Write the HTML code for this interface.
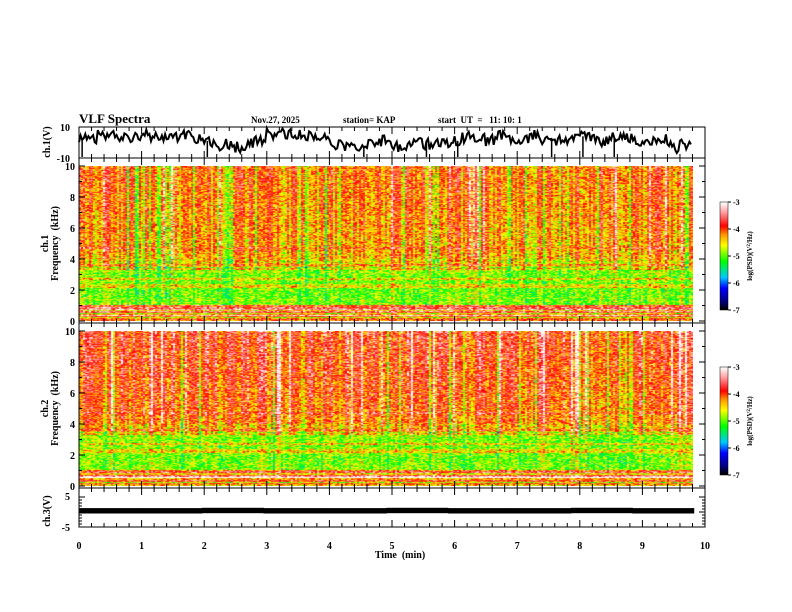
<!DOCTYPE html>
<html><head><meta charset="utf-8">
<style>
html,body{margin:0;padding:0;background:#fff;}
#wrap{position:relative;width:792px;height:612px;overflow:hidden;font-family:"Liberation Serif",serif;}
canvas{position:absolute;}
svg{position:absolute;left:0;top:0;}
svg text{font-family:"Liberation Serif",serif;font-weight:bold;fill:#000;white-space:pre;}
</style></head>
<body>
<div id="wrap">
<canvas id="sp1" width="614" height="155" style="left:79px;top:166px"></canvas>
<canvas id="sp2" width="614" height="155" style="left:79px;top:331px"></canvas>
<canvas id="cb1" width="8" height="108" style="left:720px;top:202px"></canvas>
<canvas id="cb2" width="8" height="108" style="left:720px;top:367px"></canvas>
<svg id="svg" width="792" height="612"></svg>
</div>
<script>
// ---- data ----
const timeTicks = [0,1,2,3,4,5,6,7,8,9,10];
const freqTicks = [0,2,4,6,8,10];
const cbTicks = [-3,-4,-5,-6,-7];
// mean log PSD per 0.5 kHz band (0..10 kHz), ch1 and ch2
const freqBands = [0,0.5,1,1.5,2,2.5,3,3.5,4,4.5,5,5.5,6,6.5,7,7.5,8,8.5,9,9.5];
const ch1Profile = [-4.3,-3.95,-4.95,-5.0,-5.0,-4.95,-4.9,-4.55,-4.35,-4.3,-4.3,-4.3,-4.25,-4.25,-4.2,-4.2,-4.2,-4.15,-4.15,-4.15];
const ch2Profile = [-4.3,-3.95,-4.95,-5.0,-4.95,-4.95,-4.9,-4.45,-4.2,-4.15,-4.1,-4.1,-4.05,-4.05,-4.0,-4.0,-3.95,-3.95,-3.9,-3.9];
// horizontal line features (kHz) and their offsets
const lineFreqs = [0.3,0.55,0.9,2.2,2.3,2.7,3.35,3.6,4.7];
const lineOffsets = [0.5,0.6,0.4,0.5,0.35,0.45,0.4,0.35,0.3];
// per-time-segment activity (ch1, ch2), 0..9.8 min in 0.2 min steps
const ch1Activity = [0.2,-0.1,0.3,0.1,-0.2,0.2,0.1,0.3,-0.1,0.2,0.1,-0.2,0.1,0.3,0.2,0.1,-0.1,0.2,0.0,-0.3,0.2,0.1,0.3,0.1,-0.1,0.2,0.3,0.0,0.1,-0.2,0.1,0.2,0.0,0.3,-0.1,0.2,0.1,0.2,0.3,0.1,-0.1,0.2,0.3,0.1,0.0,0.2,0.3,0.1,0.2,0.1];
const ch2Activity = [0.2,0.1,0.3,0.2,0.0,0.3,0.2,0.1,-0.1,0.2,0.3,0.0,0.1,0.3,0.2,0.1,0.0,-0.2,0.2,0.0,0.1,0.2,0.1,0.0,-0.1,0.2,0.3,0.1,0.0,-0.1,0.1,0.2,0.2,0.0,0.1,0.2,0.3,0.1,0.2,0.3,0.1,0.0,-0.1,0.2,0.3,0.2,0.1,0.3,0.2,0.1];
// ch1 waveform (V) every 0.1 min
const ch1Wave = [3,4,2,5,3,6,4,3,2,4,5,3,4,2,3,4,6,5,3,2,1,-1,-2,0,-1,-3,-2,0,2,1,6,5,7,6,5,6,4,5,3,2,0,-1,-2,0,-3,-2,-1,0,1,-1,-2,-3,-2,0,1,-1,-2,0,-1,-2,1,3,4,2,3,1,2,4,3,1,2,3,5,4,2,3,1,0,2,3,4,3,2,0,1,3,2,4,3,1,0,1,2,3,-2,-4,1,-3];
const ch3Level = [0.4,0.4,0.5,0.4,0.4,0.5,0.4,0.4,0.5,0.4];

// ---- geometry ----
const X0=79, X1=705, TMIN=0, TMAX=10;
const xs = t => X0 + (t-TMIN)/(TMAX-TMIN)*(X1-X0);
const svg = document.getElementById('svg');
const NS='http://www.w3.org/2000/svg';
function mk(tag, attrs, parent){const e=document.createElementNS(NS,tag);for(const k in attrs)e.setAttribute(k,attrs[k]);(parent||svg).appendChild(e);return e;}
function txt(x,y,s,size,anchor,rot){const e=mk('text',{x:x,y:y,'font-size':size,'text-anchor':anchor||'start'});if(rot)e.setAttribute('transform','rotate(-90 '+x+' '+y+')');e.textContent=s;return e;}

function hash(i,j,s){let h=(i*374761393+j*668265263+s*982451653)|0;h=(h^(h>>>13))*1274126177|0;h=h^(h>>>16);return ((h>>>0)%10000)/10000;}

const stops=[[0,0,0,0],[0.08,0,0,130],[0.2,0,0,255],[0.3,0,200,255],[0.45,0,255,0],[0.6,255,255,0],[0.7,255,150,0],[0.78,255,0,0],[0.9,255,150,150],[1,255,255,255]];
function cmap(v){let t=(v+7)/4;t=Math.max(0,Math.min(1,t));for(let k=1;k<stops.length;k++){if(t<=stops[k][0]){const a=stops[k-1],b=stops[k];const f=(t-a[0])/(b[0]-a[0]);return [a[1]+f*(b[1]-a[1]),a[2]+f*(b[2]-a[2]),a[3]+f*(b[3]-a[3])];}}return [255,255,255];}

function drawSpec(id,profile,activity,seed){
  const c=document.getElementById(id),ctx=c.getContext('2d');
  const W=c.width,H=c.height,img=ctx.createImageData(W,H);
  const dataW=Math.round(xs(9.82)-X0);
  for(let x=0;x<W;x++){
    const col=Math.floor(x/2);
    const t=x/(X1-X0)*10;
    const seg=Math.min(activity.length-1,Math.floor(t/0.2));
    const r=hash(col,0,seed);
    const colOff=activity[seg]*0.5+(r-0.5)*1.0+(r>0.93?0.4:0)-(r<0.1?0.3:0);
    for(let y=0;y<H;y++){
      const i=(y*W+x)*4;
      if(x>=dataW){img.data[i]=img.data[i+1]=img.data[i+2]=255;img.data[i+3]=255;continue;}
      const f=(H-1-y)/(H-1)*10;
      const b=Math.min(profile.length-1,Math.floor(f/0.5));
      let v=profile[b];
      v+=colOff*(f<1?0.2:(f<3.3?0.4:1));
      if(f<1){v+=(hash(y,1,seed)-0.5)*1.2;}
      for(let k=0;k<lineFreqs.length;k++){if(Math.abs(f-lineFreqs[k])<0.07)v+=lineOffsets[k];}
      v+=(hash(col,y,seed)-0.5)*1.0;
      const cl=cmap(v);
      img.data[i]=cl[0];img.data[i+1]=cl[1];img.data[i+2]=cl[2];img.data[i+3]=255;
    }
  }
  ctx.putImageData(img,0,0);
}
drawSpec('sp1',ch1Profile,ch1Activity,7);
drawSpec('sp2',ch2Profile,ch2Activity,13);

function drawCb(id){const c=document.getElementById(id),ctx=c.getContext('2d');for(let y=0;y<c.height;y++){const v=-3-4*y/(c.height-1);const cl=cmap(v);ctx.fillStyle='rgb('+cl.map(Math.round).join(',')+')';ctx.fillRect(0,y,c.width,1);}}
drawCb('cb1');drawCb('cb2');

// ---- panels ----
const panels=[
 {name:'ch1-wave-panel',y0:127,y1:158},
 {name:'ch1-spec-panel',y0:158,y1:323},
 {name:'ch2-spec-panel',y0:323,y1:488},
 {name:'ch3-wave-panel',y0:488,y1:527}
];
panels.forEach(p=>{
  const g=mk('g',{});
  
  
  mk('rect',{x:X0,y:p.y0,width:X1-X0,height:p.y1-p.y0,fill:'none',stroke:'#000','stroke-width':1},g);
  for(let k=0;k<=50;k++){
    const t=k*0.2,x=xs(t),L=(k%5===0)?7:4;
    mk('line',{x1:x,y1:p.y0,x2:x,y2:p.y0+L,stroke:'#000'},g);
    mk('line',{x1:x,y1:p.y1,x2:x,y2:p.y1-L,stroke:'#000'},g);
  }
});
function specAxis(top,bot,label1){
  const ys=f=>bot-(f/10)*(bot-top);
  for(let f=0;f<=10;f++){const y=ys(f),L=f%2===0?6:3;
    mk('line',{x1:X0,y1:y,x2:X0+L,y2:y,stroke:'#000'});
    mk('line',{x1:X1,y1:y,x2:X1-L,y2:y,stroke:'#000'});}
  freqTicks.forEach(f=>{const e=txt(X0-4,ys(f)+4,String(f),10,'end');});
  const a=txt(48,(top+bot)/2,label1,10,'middle',true);
  const b=txt(58,(top+bot)/2,'Frequency  (kHz)',10,'middle',true);
}
specAxis(166,321,'ch.1');
specAxis(331,486,'ch.2');

function cbAxis(top,bot){
  cbTicks.forEach(v=>{const y=top+(-3-v)/4*(bot-top);
    mk('line',{x1:728,y1:y,x2:731,y2:y,stroke:'#000'});
    const e=txt(733,y+3,String(v),8,'start');});
  mk('rect',{x:720,y:top,width:8,height:bot-top,fill:'none',stroke:'#000','stroke-width':0.5});
  const e=mk('text',{x:752,y:(top+bot)/2,'font-size':7,'text-anchor':'middle',transform:'rotate(-90 752 '+((top+bot)/2)+')'});
  e.innerHTML='log(PSD)(V<tspan baseline-shift="super" font-size="5">2</tspan>/Hz)';
  
}
cbAxis(202,310);cbAxis(367,475);

// ch1 wave
(function(){
  const top=127,bot=158,yv=v=>top+(10-v)/20*(bot-top);
  let d='';
  const n=ch1Wave.length;
  for(let k=0;k<n;k++){const t=k*0.1;
    for(let s=0;s<4;s++){const tt=t+s*0.025;if(tt>9.82)break;const v=ch1Wave[k]+(hash(k,s,3)-0.5)*7;d+=(d?'L':'M')+xs(tt).toFixed(1)+','+yv(Math.max(-10,Math.min(10,v))).toFixed(1);}
  }
  const p=mk('path',{d:d,fill:'none',stroke:'#000','stroke-width':2});
  
  for(let k=0;k<n;k+=5){const x=xs(k*0.1+0.05);if(hash(k,9,4)>0.4)mk('line',{x1:x,y1:yv(ch1Wave[k]),x2:x,y2:bot-1,stroke:'#000','stroke-width':1.5});}
  txt(70,131,'10',10,'end');txt(70,162,'-10',10,'end');
  const e=txt(50,142,'ch.1(V)',10,'middle',true);
})();
// ch3 wave
(function(){
  const top=497,bot=527,yv=v=>top+(5-v)/10*(bot-top);
  for(let k=0;k<ch3Level.length;k++){
    const x0=xs(k*0.982),x1=xs((k+1)*0.982);
    const r=mk('rect',{x:x0,y:yv(ch3Level[k]+0.9),width:x1-x0+0.5,height:yv(ch3Level[k]-0.9)-yv(ch3Level[k]+0.9),fill:'#000'});
    
  }
  for(let v=-5;v<=5;v++){const y=yv(v),L=v%5===0?6:3;mk('line',{x1:X0,y1:y,x2:X0+L,y2:y,stroke:'#000'});mk('line',{x1:X1,y1:y,x2:X1-L,y2:y,stroke:'#000'});}
  txt(70,500,'5',10,'end');txt(70,531,'-5',10,'end');
  const e=txt(50,511,'ch.3(V)',10,'middle',true);
})();
timeTicks.forEach(t=>{const e=txt(xs(t),549,String(t),10,'middle');});
(function(){const e=txt(400,558,'Time  (min)',10,'middle');})();
(function(){
  let e=txt(79,123,'VLF Spectra',13,'start');
  e=txt(251,123,'Nov.27, 2025',9,'start');
  e=txt(343,123,'station= KAP',9,'start');
  e=txt(438,123,'start  UT  =   11: 10: 1',9,'start');
})();
</script>
</body></html>
